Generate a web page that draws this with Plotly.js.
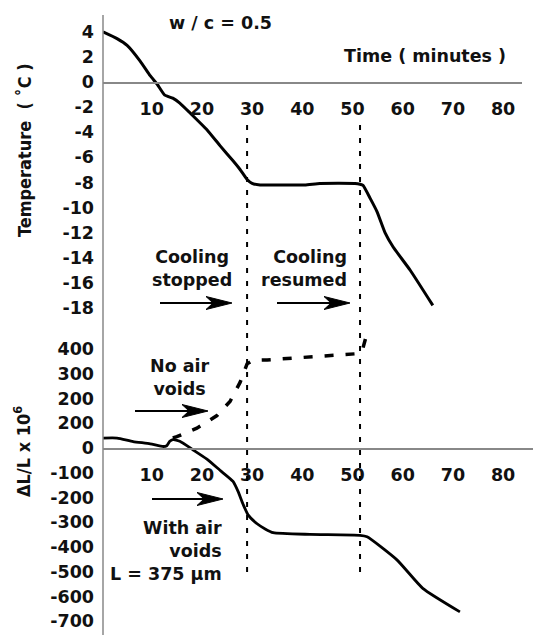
<!DOCTYPE html>
<html>
<head>
<meta charset="utf-8">
<script src="https://cdn.plot.ly/plotly-3.0.1.min.js"></script>
<style>
html,body{margin:0;padding:0;background:#fff;}
#chart{width:533px;height:635px;}
</style>
</head>
<body>
<div id="chart"></div>
<script>
// ---- Data ----
const tempTime = [0.3, 3.1, 5.1, 7.7, 9.7, 11.1, 12.6, 14.2, 15.6, 17.6, 21.0, 23.6, 26.2, 27.6, 29.0, 30.0, 31.6, 40.5, 43.5, 50.5, 51.5, 52.1, 53.5, 54.9, 56.5, 58.1, 61.5, 66.0];
const tempVal  = [4.0, 3.46, 2.92, 1.67, 0.5, -0.18, -1.05, -1.29, -1.68, -2.45, -3.8, -5.07, -6.28, -6.97, -7.77, -8.08, -8.2, -8.2, -8.08, -8.08, -8.15, -8.24, -9.25, -10.34, -12.02, -13.15, -15.0, -17.8];

const airTime  = [0.3, 3.1, 6.3, 9.7, 12.3, 13.0, 13.6, 14.2, 15.6, 18.2, 21.0, 23.6, 26.2, 27.2, 28.2, 29.2, 31.0, 32.6, 34.2, 41.5, 51.5, 52.9, 58.9, 64.0, 71.4];
const airVal   = [40, 40, 26, 17, 6, 9, 27, 34, 27, -7, -45, -90, -135, -175, -227, -270, -306, -327, -342, -349, -353, -359, -453, -567, -662];

const noAirTime = [14.2, 15.0, 19.0, 23.0, 25.6, 27.6, 29.0, 30.2, 33.0, 37.5, 42.1, 46.9, 50.9, 51.9, 52.7, 53.5];
const noAirVal  = [41, 46, 80, 131, 188, 265, 340, 355, 356, 362, 367, 373, 381, 390, 450, 480];

const eventTimes = [29.0, 51.5];

const xTickVals = [10, 20, 30, 40, 50, 60, 70, 80];
const tempTickVals = [4, 2, 0, -2, -4, -6, -8, -10, -12, -14, -16, -18];
const strainTickVals = [400, 300, 200, 100, 0, -100, -200, -300, -400, -500, -600, -700];
const strainTickText = ["400", "300", "200", "200", "0", "-100", "-200", "-300", "-400", "-500", "-600", "-700"];

// ---- Layout helpers (pixel -> paper) ----
const W = 533, H = 635, L = 103;
const PW = W - L;
const px = p => (p - L) / PW;
const py = p => 1 - p / H;
const hy = s => s.replace('−', '-');

const FONT = {family: 'DejaVu Sans, Verdana, sans-serif', size: 17.5, color: '#111', weight: 'bold'};
const TFONT = {family: 'DejaVu Sans Condensed, DejaVu Sans, sans-serif', size: 18, color: '#111', weight: 'bold'};

const traces = [
  {x: tempTime, y: tempVal, xaxis: 'x', yaxis: 'y', mode: 'lines',
   line: {color: '#000', width: 3, shape: 'spline', smoothing: 0.4}, hoverinfo: 'skip'},
  {x: airTime, y: airVal, xaxis: 'x2', yaxis: 'y2', mode: 'lines',
   line: {color: '#000', width: 2.8, shape: 'spline', smoothing: 0.5}, hoverinfo: 'skip'},
  {x: noAirTime, y: noAirVal, xaxis: 'x2', yaxis: 'y2', mode: 'lines',
   line: {color: '#000', width: 3.5, dash: '9px,12px'}, hoverinfo: 'skip'}
];

// y scale: top 0 at py=82, 12.55 px/unit; bottom 0 at py=448, 0.2475 px/unit
const topY0 = 82, topS = 12.55, topA = 12, topB = 322;
const botY0 = 448, botS = 0.2475, botA = 336, botB = 632;
// x scale: px = 101.5 + 5.02 * t
const xs = 5.02, x0 = 101.5;
const tAt = p => (p - x0) / xs;

const shapes = [];
// vertical axis line
shapes.push({type: 'line', xref: 'paper', yref: 'paper', x0: 0, x1: 0, y0: py(15), y1: 0,
  line: {color: '#888', width: 1.5}});
// event lines
eventTimes.forEach(t => shapes.push({type: 'line', xref: 'x', yref: 'paper', x0: t, x1: t,
  y0: py(572), y1: py(122), line: {color: '#000', width: 2, dash: '5px,8px'}}));
// arrows
const arrows = [[160, 232, 303], [277, 350, 303], [135, 208, 411], [152, 223, 499]];
arrows.forEach(([a, b, y]) => {
  shapes.push({type: 'line', xref: 'paper', yref: 'paper', x0: px(a), x1: px(b - 18), y0: py(y), y1: py(y),
    line: {color: '#000', width: 2}});
  const path = 'M' + px(b) + ',' + py(y) + ' L' + px(b - 26) + ',' + py(y - 6.5) +
    ' L' + px(b - 19) + ',' + py(y) + ' L' + px(b - 26) + ',' + py(y + 6.5) + ' Z';
  shapes.push({type: 'path', xref: 'paper', yref: 'paper', path: path,
    fillcolor: '#000', line: {color: '#000', width: 1}});
});

const ann = (text, x, y, opts) => Object.assign({text: text, xref: 'paper', yref: 'paper', x: px(x), y: py(y),
  showarrow: false, font: FONT, xanchor: 'center', yanchor: 'middle'}, opts || {});

const annotations = [
  ann('w / c = 0.5', 220, 23),
  ann('Time ( minutes )', 425, 56),
  ann('Cooling<br>stopped', 192, 268),
  ann('Cooling<br>resumed', 349, 268, {xanchor: 'right', align: 'right'}),
  ann('No air<br>voids', 180, 377),
  ann('With air<br>voids<br>L = 375 µm', 224, 551, {xanchor: 'right', align: 'right'}),
  ann('Temperature  ( ˚C )', 24, 150, {textangle: -90, font: TFONT}),
  ann('ΔL/L x 10<sup>6</sup>', 22, 452, {textangle: -90, font: TFONT})
];

const layout = {
  width: W, height: H,
  margin: {l: L, r: 0, t: 0, b: 0, pad: 0},
  paper_bgcolor: '#fff', plot_bgcolor: 'rgba(0,0,0,0)',
  showlegend: false,
  font: FONT,
  xaxis: {domain: [0, (522 - L) / PW], range: [tAt(L), tAt(522)], anchor: 'free', position: py(topY0),
    showline: true, linecolor: '#888', linewidth: 1.5, showgrid: false, zeroline: false,
    ticks: '', tickvals: xTickVals, ticktext: xTickVals.map(String), tickfont: FONT, ticklabelstandoff: 10},
  xaxis2: {domain: [0, 1], range: [tAt(L), tAt(W)], anchor: 'free', position: py(botY0),
    showline: true, linecolor: '#888', linewidth: 1.5, showgrid: false, zeroline: false,
    ticks: '', tickvals: xTickVals, ticktext: xTickVals.map(String), tickfont: FONT, ticklabelstandoff: 10},
  yaxis: {domain: [py(topB), py(topA)], range: [-(topB - topY0) / topS, (topY0 - topA) / topS], anchor: 'x',
    showline: false, showgrid: false, zeroline: false, ticks: '',
    tickvals: tempTickVals, ticktext: tempTickVals.map(v => hy(String(v))), tickfont: FONT, ticklabelstandoff: 8},
  yaxis2: {domain: [py(botB), py(botA)], range: [-(botB - botY0) / botS, (botY0 - botA) / botS], anchor: 'x2',
    showline: false, showgrid: false, zeroline: false, ticks: '',
    tickvals: strainTickVals, ticktext: strainTickText, tickfont: FONT, ticklabelstandoff: 8},
  shapes: shapes,
  annotations: annotations
};

Plotly.newPlot('chart', traces, layout, {staticPlot: true, displayModeBar: false});
</script>
</body>
</html>
